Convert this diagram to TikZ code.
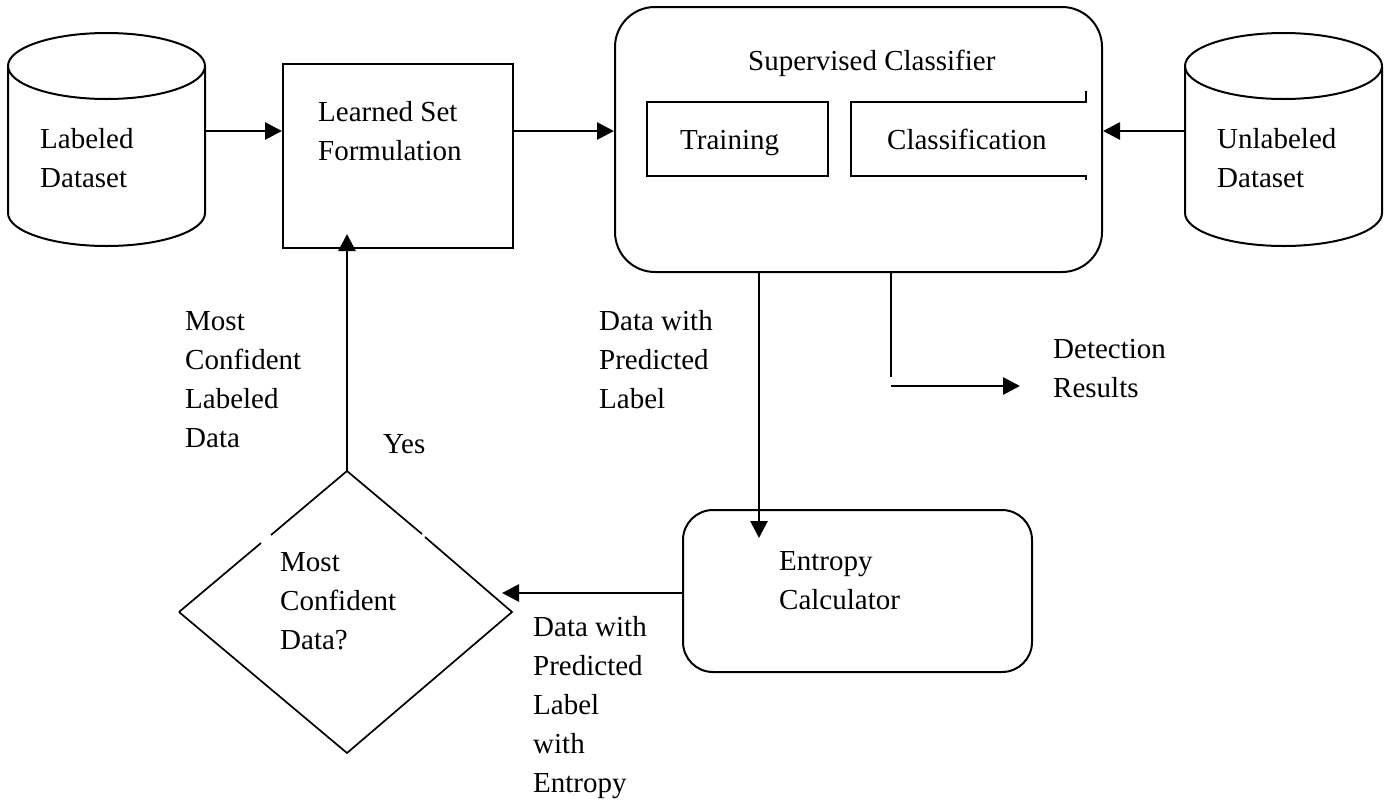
\documentclass[tikz,border=0pt]{standalone}
\usepackage{fontspec}
\setmainfont{Liberation Serif}
\usetikzlibrary{arrows.meta}
\begin{document}
\begin{tikzpicture}[x=1pt,y=-1pt,
  line join=miter,
  boxst/.style={draw, line width=2pt, inner sep=0pt},
  rbox/.style={draw, line width=2pt, inner sep=0pt, rounded corners=40pt},
  ghost/.style={draw=none, inner sep=0pt},
  lbl/.style={anchor=base west, inner sep=0pt, align=left, font=\fontsize{29}{39}\selectfont},
  arr/.style={line width=2.8pt, -{Triangle[length=17pt,width=17pt]}},
  ln/.style={line width=2.4pt},
  shape line/.style={line width=2pt},
  dia/.style={line width=1.7pt}
]
\useasboundingbox (0,0) rectangle (1389,801);

% ---------- Labeled dataset cylinder ----------
\node[ghost, minimum width=197pt, minimum height=213pt] (ld) at (106.5,139.5) {};
\draw[shape line] (106.5,66) ellipse [x radius=98.5pt, y radius=33pt];
\draw[shape line] (8,66) -- (8,213) arc[start angle=180, end angle=360, x radius=98.5pt, y radius=33pt] -- (205,66);
\node[lbl] (ldt) at (40,187) {Labeled\\Dataset};

% ---------- Unlabeled dataset cylinder ----------
\node[ghost, minimum width=197pt, minimum height=213pt] (ud) at (1283.5,139.5) {};
\draw[shape line] (1283.5,66) ellipse [x radius=98.5pt, y radius=33pt];
\draw[shape line] (1185,66) -- (1185,213) arc[start angle=180, end angle=360, x radius=98.5pt, y radius=33pt] -- (1382,66);
\node[lbl] (udt) at (1217,187) {Unlabeled\\Dataset};

% ---------- Learned set formulation ----------
\node[boxst, minimum width=230pt, minimum height=184pt] (lsf) at (398,156) {};
\node[lbl] (lsft) at (318,160) {Learned Set\\Formulation};

% ---------- Supervised classifier ----------
\node[rbox, minimum width=487pt, minimum height=265pt] (sc) at (858.5,139.5) {};
\node[lbl] (sct) at (748,70) {Supervised Classifier};
\node[boxst, minimum width=181pt, minimum height=74pt] (tr) at (737.5,139) {};
\node[lbl] (trt) at (680,149) {Training};
\node[ghost, minimum width=235pt, minimum height=74pt] (cl) at (968.5,139) {};
\draw[shape line] ([yshift=11pt]cl.north east) -- (cl.north east) -- (cl.north west) -- (cl.south west) -- (cl.south east) -- ([yshift=-4pt]cl.south east);
\node[lbl] (clt) at (887,149) {Classification};

% ---------- Entropy calculator ----------
\node[draw, line width=2pt, inner sep=0pt, rounded corners=30pt, minimum width=349pt, minimum height=162pt] (ec) at (857.5,591) {};
\node[lbl] (ect) at (779,609) {Entropy\\Calculator};

% ---------- Decision diamond ----------
\coordinate (dtop) at (347,471);
\coordinate (dleft) at (179,612);
\coordinate (dright) at (512,612);
\coordinate (dbot) at (347,753);
\draw[dia] (dleft) -- (261,543);
\draw[dia] (271,535) -- (dtop) -- (422,534);
\draw[dia] (425,537) -- (dright) -- (dbot) -- (dleft);
\node[lbl] (dt) at (280,649) {Most\\Confident\\Data?};

% ---------- Connectors ----------
\coordinate (ldout) at (205,131);
\draw[arr] (ldout) -- (ldout -| lsf.west);
\draw[arr] (lsf.east |- ldout) -- (sc.west |- ldout);
\coordinate (udout) at (1185,131);
\draw[arr] (udout) -- (udout -| sc.east);

\coordinate (s1) at (759,272);
\coordinate (s1e) at (759,538);
\draw[arr] (s1) -- (s1e);

\coordinate (s2) at (891,272);
\coordinate (s2e) at (891,377);
\draw[ln] (s2) -- (s2e);
\coordinate (s3) at (891,386);
\coordinate (dr) at (1020,386);
\draw[arr] (s3) -- (dr);

\coordinate (ecout) at (683,593);
\coordinate (din) at (502,593);
\draw[arr] (ecout) -- (din);

\coordinate (lsfin) at (347,234);
\draw[arr] (dtop) -- (lsfin);

% ---------- Labels ----------
\node[lbl] (l1) at (185,447) {Most\\Confident\\Labeled\\Data};
\node[lbl] (l2) at (383,453) {Yes};
\node[lbl] (l3) at (599,408) {Data with\\Predicted\\Label};
\node[lbl] (l4) at (1053,397) {Detection\\Results};
\node[lbl] (l5) at (533,792) {Data with\\Predicted\\Label\\with\\Entropy};
\end{tikzpicture}
\end{document}
